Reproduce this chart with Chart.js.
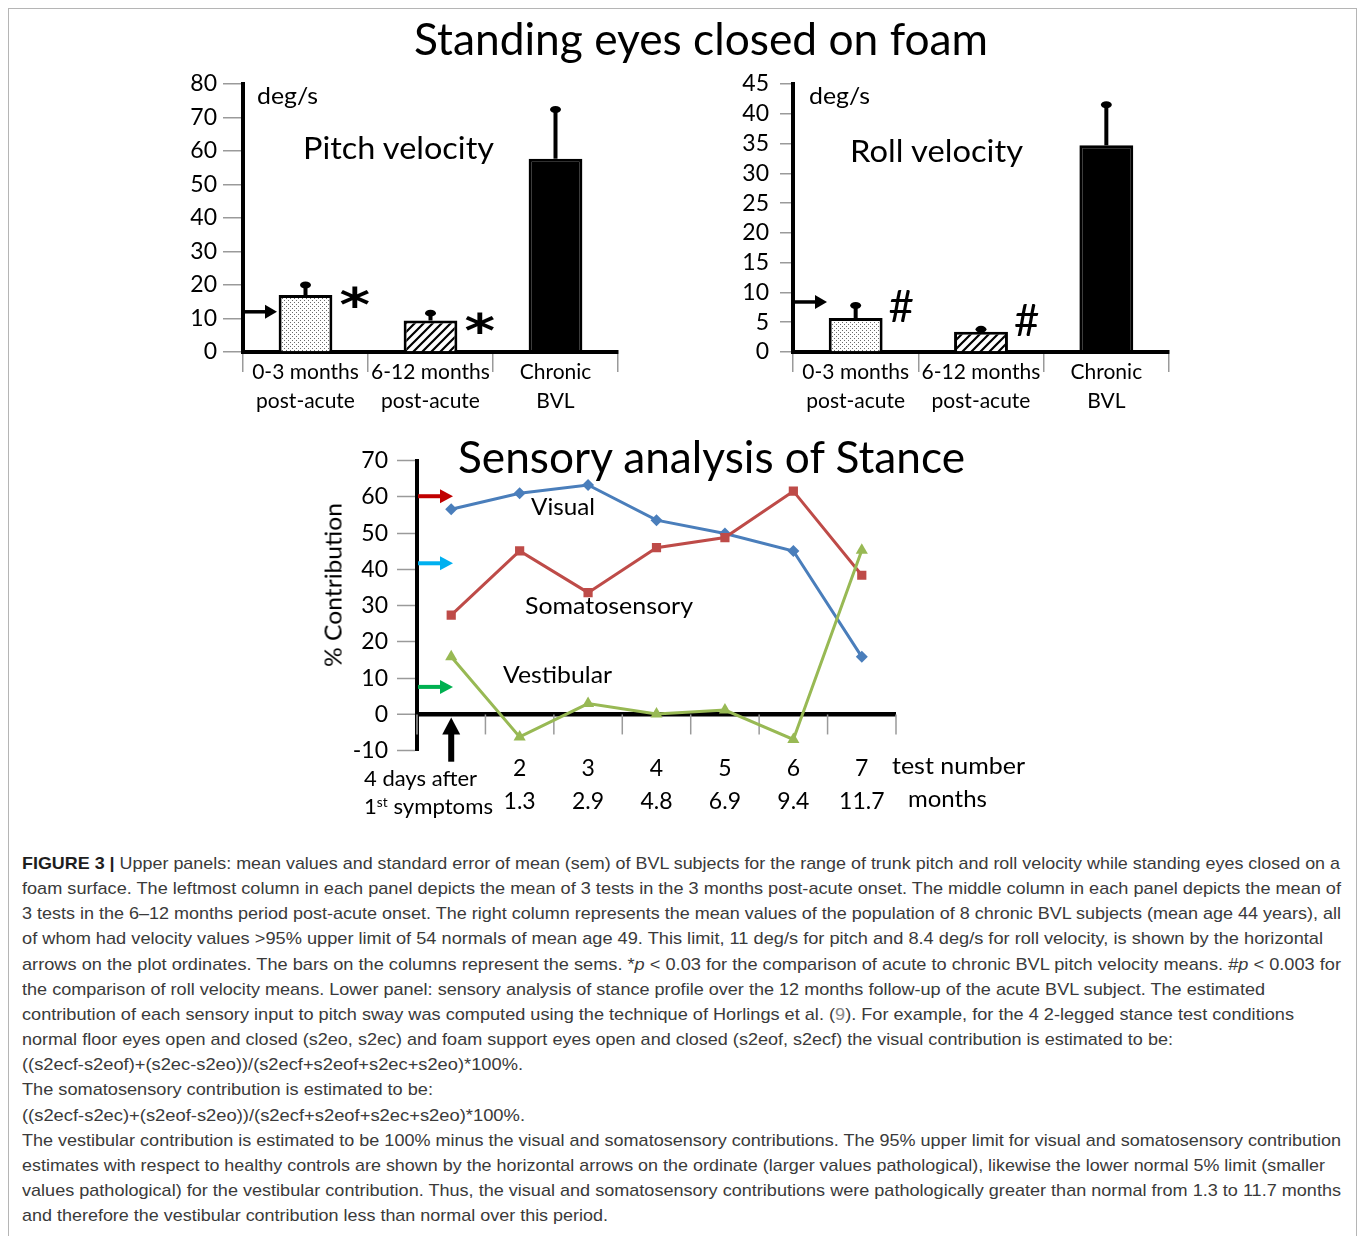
<!DOCTYPE html>
<html>
<head>
<meta charset="utf-8">
<script src="https://cdn.jsdelivr.net/npm/chart.js@4.4.0/dist/chart.umd.min.js"></script>
<style>
  body { margin: 0; background: #fff; width: 1358px; height: 1236px; overflow: hidden; position: relative; font-family: Lato, sans-serif; }
  #frame { position: absolute; left: 8px; top: 8px; width: 1347px; height: 1260px; border: 1px solid #b5b5b5; }
  canvas { position: absolute; left: 0; top: 0; }
  .t { position: absolute; white-space: nowrap; transform-origin: 0 50%; color: #000; }
  .cap { font-family: "Liberation Sans", Arial, sans-serif; color: #3a3a3a; }
  .cap b { color: #1e1e1e; }
  .ref { color: #8a8a8a; }
  .sup { font-size: 0.62em; position: relative; top: -0.55em; }
  #ylab { position: absolute; white-space: nowrap; font-size: 23px; line-height: 28px; }
</style>
</head>
<body>
<div id="frame"></div>
<canvas id="pitch" width="1358" height="440"></canvas>
<canvas id="roll" width="1358" height="440"></canvas>
<canvas id="stance" width="1358" height="840"></canvas>

<div class="t" data-x0="414" data-x1="988" data-y="42" data-fs="44">Standing eyes closed on foam</div>
<div class="t" data-x0="257" data-x1="318" data-y="97" data-fs="24">deg/s</div>
<div class="t" data-x0="809" data-x1="870" data-y="97" data-fs="24">deg/s</div>
<div class="t" data-x0="303" data-x1="494" data-y="150" data-fs="31">Pitch velocity</div>
<div class="t" data-x0="850" data-x1="1023" data-y="153" data-fs="31">Roll velocity</div>
<div class="t" data-x0="458" data-x1="965" data-y="460" data-fs="44">Sensory analysis of Stance</div>
<div class="t" data-x0="531" data-x1="595" data-y="509" data-fs="23">Visual</div>
<div class="t" data-x0="525" data-x1="693" data-y="608" data-fs="23">Somatosensory</div>
<div class="t" data-x0="503" data-x1="612" data-y="677" data-fs="23">Vestibular</div>
<div class="t" data-x0="364" data-x1="477" data-y="780" data-fs="22">4 days after</div>
<div class="t" data-x0="364" data-x1="493" data-y="808" data-fs="22">1<span class="sup">st</span> symptoms</div>
<div class="t" data-x0="892" data-x1="1025" data-y="768" data-fs="23">test number</div>
<div class="t" data-x0="908" data-x1="987" data-y="801" data-fs="23">months</div>
<div id="ylab">% Contribution</div>

<div class="t cap" data-x0="22" data-x1="1340" data-y="865" data-fs="17" data-k="0.64"><b>FIGURE 3 |</b> Upper panels: mean values and standard error of mean (sem) of BVL subjects for the range of trunk pitch and roll velocity while standing eyes closed on a</div>
<div class="t cap" data-x0="22" data-x1="1341" data-y="890" data-fs="17" data-k="0.64">foam surface. The leftmost column in each panel depicts the mean of 3 tests in the 3 months post-acute onset. The middle column in each panel depicts the mean of</div>
<div class="t cap" data-x0="22" data-x1="1341" data-y="915" data-fs="17" data-k="0.64">3 tests in the 6–12 months period post-acute onset. The right column represents the mean values of the population of 8 chronic BVL subjects (mean age 44 years), all</div>
<div class="t cap" data-x0="22" data-x1="1323" data-y="940" data-fs="17" data-k="0.64">of whom had velocity values &gt;95% upper limit of 54 normals of mean age 49. This limit, 11 deg/s for pitch and 8.4 deg/s for roll velocity, is shown by the horizontal</div>
<div class="t cap" data-x0="22" data-x1="1341" data-y="966" data-fs="17" data-k="0.64">arrows on the plot ordinates. The bars on the columns represent the sems. *<i>p</i> &lt; 0.03 for the comparison of acute to chronic BVL pitch velocity means. #<i>p</i> &lt; 0.003 for</div>
<div class="t cap" data-x0="22" data-x1="1265" data-y="991" data-fs="17" data-k="0.64">the comparison of roll velocity means. Lower panel: sensory analysis of stance profile over the 12 months follow-up of the acute BVL subject. The estimated</div>
<div class="t cap" data-x0="22" data-x1="1294" data-y="1016" data-fs="17" data-k="0.64">contribution of each sensory input to pitch sway was computed using the technique of Horlings et al. (<span class="ref">9</span>). For example, for the 4 2-legged stance test conditions</div>
<div class="t cap" data-x0="22" data-x1="1173" data-y="1041" data-fs="17" data-k="0.64">normal floor eyes open and closed (s2eo, s2ec) and foam support eyes open and closed (s2eof, s2ecf) the visual contribution is estimated to be:</div>
<div class="t cap" data-x0="22" data-x1="523" data-y="1066" data-fs="17" data-k="0.64">((s2ecf-s2eof)+(s2ec-s2eo))/(s2ecf+s2eof+s2ec+s2eo)*100%.</div>
<div class="t cap" data-x0="22" data-x1="433" data-y="1091" data-fs="17" data-k="0.64">The somatosensory contribution is estimated to be:</div>
<div class="t cap" data-x0="22" data-x1="525" data-y="1117" data-fs="17" data-k="0.64">((s2ecf-s2ec)+(s2eof-s2eo))/(s2ecf+s2eof+s2ec+s2eo)*100%.</div>
<div class="t cap" data-x0="22" data-x1="1341" data-y="1142" data-fs="17" data-k="0.64">The vestibular contribution is estimated to be 100% minus the visual and somatosensory contributions. The 95% upper limit for visual and somatosensory contribution</div>
<div class="t cap" data-x0="22" data-x1="1325" data-y="1167" data-fs="17" data-k="0.64">estimates with respect to healthy controls are shown by the horizontal arrows on the ordinate (larger values pathological), likewise the lower normal 5% limit (smaller</div>
<div class="t cap" data-x0="22" data-x1="1341" data-y="1192" data-fs="17" data-k="0.64">values pathological) for the vestibular contribution. Thus, the visual and somatosensory contributions were pathologically greater than normal from 1.3 to 11.7 months</div>
<div class="t cap" data-x0="22" data-x1="608" data-y="1217" data-fs="17" data-k="0.64">and therefore the vestibular contribution less than normal over this period.</div>

<script>
// upper panels
const groupLabels = [["0-3 months", "post-acute"], ["6-12 months", "post-acute"], ["Chronic", "BVL"]];
const pitchMean = [17.0, 9.4, 57.7];
const pitchSem = [3.0, 2.2, 14.7];
const pitchLimit = 12;
const pitchMarks = ["*", "*", ""];
const rollMean = [5.7, 3.4, 34.7];
const rollSem = [2.1, 0.4, 6.8];
const rollLimit = 8.4;
const rollMarks = ["#", "#", ""];

// lower panel
const testLabels = [["", ""], ["2", "1.3"], ["3", "2.9"], ["4", "4.8"], ["5", "6.9"], ["6", "9.4"], ["7", "11.7"]];
const visual = [56.6, 61.0, 63.3, 53.6, 49.9, 45.1, 15.9];
const somato = [27.4, 45.1, 33.6, 46.0, 48.8, 61.6, 38.4];
const vestib = [15.9, -6.2, 3.0, 0.1, 1.2, -6.9, 45.3];
const normLimits = [60.2, 41.7, 7.6];
const normColors = ["#c00000", "#00b0f0", "#00b050"];

Chart.defaults.font.family = "Lato";
Chart.defaults.color = "#000";
Chart.defaults.animation = false;

function stipple() {
  const c = document.createElement("canvas");
  c.width = c.height = 4;
  const g = c.getContext("2d");
  g.fillStyle = "#fff"; g.fillRect(0, 0, 4, 4);
  g.fillStyle = "#6a6a6a";
  g.fillRect(0, 0, 1, 1); g.fillRect(2, 2, 1, 1);
  return g.createPattern(c, "repeat");
}
function hatch() {
  const s = 9, c = document.createElement("canvas");
  c.width = c.height = s;
  const g = c.getContext("2d");
  g.fillStyle = "#fff"; g.fillRect(0, 0, s, s);
  g.strokeStyle = "#000"; g.lineWidth = 2.2;
  g.beginPath();
  g.moveTo(-1, s + 1); g.lineTo(s + 1, -1);
  g.moveTo(-1, 1); g.lineTo(1, -1);
  g.moveTo(s - 1, s + 1); g.lineTo(s + 1, s - 1);
  g.stroke();
  return g.createPattern(c, "repeat");
}

function arrow(ctx, x0, y0, x1, y1, w, headLen, headHalf, color) {
  const L = Math.hypot(x1 - x0, y1 - y0);
  ctx.save();
  ctx.translate(x0, y0);
  ctx.rotate(Math.atan2(y1 - y0, x1 - x0));
  ctx.fillStyle = color;
  ctx.fillRect(0, -w / 2, L - headLen + 1, w);
  ctx.beginPath();
  ctx.moveTo(L, 0); ctx.lineTo(L - headLen, -headHalf); ctx.lineTo(L - headLen, headHalf);
  ctx.closePath(); ctx.fill();
  ctx.restore();
}

// draws s so that its ink box is w x h, centred on (cx, cy)
function glyph(ctx, s, cx, cy, w, h, weight, family) {
  ctx.save();
  ctx.font = weight + " 100px " + family;
  let m = ctx.measureText(s);
  const size = 100 * h / (m.actualBoundingBoxAscent + m.actualBoundingBoxDescent);
  ctx.font = weight + " " + size + "px " + family;
  m = ctx.measureText(s);
  const gw = m.actualBoundingBoxRight + m.actualBoundingBoxLeft;
  ctx.translate(cx, cy);
  ctx.scale(w / gw, 1);
  ctx.textAlign = "left"; ctx.textBaseline = "alphabetic";
  ctx.fillStyle = "#000";
  ctx.fillText(s, -(m.actualBoundingBoxRight - m.actualBoundingBoxLeft) / 2, (m.actualBoundingBoxAscent - m.actualBoundingBoxDescent) / 2);
  ctx.restore();
}

const barExtras = {
  id: "barExtras",
  afterDatasetsDraw(chart, args, o) {
    const ctx = chart.ctx, y = chart.scales.y, a = chart.chartArea;
    const vals = chart.data.datasets[0].data;
    ctx.save();
    ctx.strokeStyle = "#000"; ctx.fillStyle = "#000";
    chart.getDatasetMeta(0).data.forEach((bar, i) => {
      const top = y.getPixelForValue(vals[i] + o.sem[i]);
      ctx.lineWidth = 4;
      ctx.beginPath(); ctx.moveTo(bar.x, bar.y); ctx.lineTo(bar.x, top); ctx.stroke();
      ctx.beginPath(); ctx.ellipse(bar.x, top, 5.5, 3.5, 0, 0, Math.PI * 2); ctx.fill();
      if (o.marks[i]) glyph(ctx, o.marks[i], bar.x + bar.width / 2 + o.markDx, bar.y + o.markDy, o.markW, o.markH, o.markWeight, o.markFamily);
    });
    const ly = y.getPixelForValue(o.limit);
    arrow(ctx, a.left + 1, ly, a.left + 34, ly, 3.5, 12, 7, "#000");
    ctx.restore();
  }
};

function barChart(id, means, sem, limit, marks, max, step, area, tickLen, tickPad, markOpts) {
  const W = 1358, H = 440, yw = 70, xh = 70;
  new Chart(document.getElementById(id), {
    type: "bar",
    data: {
      labels: groupLabels,
      datasets: [{
        data: means,
        backgroundColor: [stipple(), hatch(), "#000"],
        borderColor: "#000",
        borderWidth: 3,
        barPercentage: 0.43,
        categoryPercentage: 1
      }]
    },
    options: {
      responsive: false,
      devicePixelRatio: 1,
      events: [],
      layout: { padding: { left: area.left - yw, right: W - area.right, top: area.top, bottom: H - area.bottom - xh } },
      plugins: {
        legend: { display: false },
        tooltip: { enabled: false },
        barExtras: Object.assign({ sem: sem, limit: limit, marks: marks }, markOpts)
      },
      scales: {
        x: {
          afterFit: s => { s.height = xh; },
          grid: { offset: true, drawOnChartArea: false, tickLength: 20, color: "#9a9a9a", lineWidth: 1.5 },
          border: { color: "#000", width: 4 },
          ticks: { font: { size: 21, lineHeight: 1.38 }, padding: -14.5, maxRotation: 0, autoSkip: false }
        },
        y: {
          min: 0, max: max,
          afterFit: s => { s.width = yw; },
          grid: { drawOnChartArea: false, tickLength: tickLen, color: "#9a9a9a", lineWidth: 1.5 },
          border: { color: "#000", width: 4 },
          ticks: { stepSize: step, autoSkip: false, font: { size: 23 }, padding: tickPad }
        }
      }
    },
    plugins: [barExtras]
  });
}

barChart("pitch", pitchMean, pitchSem, pitchLimit, pitchMarks, 80, 10,
  { left: 243, right: 618, top: 84, bottom: 352 }, 20, 6,
  { markDx: 22, markDy: 2, markW: 30, markH: 22, markWeight: "bold", markFamily: "'DejaVu Sans'" });
barChart("roll", rollMean, rollSem, rollLimit, rollMarks, 45, 5,
  { left: 793, right: 1169, top: 84, bottom: 352 }, 13, 11,
  { markDx: 19, markDy: -12, markW: 24, markH: 32, markWeight: "normal", markFamily: "Lato" });

const stanceExtras = {
  id: "stanceExtras",
  beforeDatasetsDraw(chart) {
    const { ctx, scales: { x, y } } = chart;
    const y0 = y.getPixelForValue(0);
    ctx.save();
    ctx.strokeStyle = "#9a9a9a"; ctx.lineWidth = 1.5;
    for (let i = 0; i <= chart.data.labels.length; i++) {
      const px = x.getPixelForValue(i - 0.5);
      ctx.beginPath(); ctx.moveTo(px, y0); ctx.lineTo(px, y0 + 20); ctx.stroke();
    }
    ctx.restore();
  },
  afterDraw(chart, args, o) {
    const { ctx, chartArea: a, scales: { x, y } } = chart;
    o.limits.forEach((v, i) => {
      const py = y.getPixelForValue(v);
      arrow(ctx, a.left + 1, py, a.left + 36, py, 4, 13, 7, o.colors[i]);
    });
    const px = x.getPixelForValue(0);
    arrow(ctx, px, y.getPixelForValue(-10) + 11, px, y.getPixelForValue(0) + 3, 6, 17, 9, "#000");
  }
};

(function () {
  const W = 1358, H = 840, yw = 70, xh = 72;
  const area = { left: 417, right: 896, top: 460.7, bottom: 750.7 };
  const line = (data, color, style, r) => ({
    data: data, borderColor: color, backgroundColor: color, borderWidth: 3,
    pointStyle: style, pointRadius: r, pointBorderWidth: 0, tension: 0
  });
  new Chart(document.getElementById("stance"), {
    type: "line",
    data: {
      labels: testLabels,
      datasets: [
        line(vestib, "#98b954", "triangle", 7),
        line(somato, "#be4b48", "rect", 6.5),
        line(visual, "#4a7ebb", "rectRot", 6)
      ]
    },
    options: {
      responsive: false,
      devicePixelRatio: 1,
      events: [],
      layout: { padding: { left: area.left - yw, right: W - area.right, top: area.top, bottom: H - area.bottom - xh } },
      plugins: {
        legend: { display: false },
        tooltip: { enabled: false },
        stanceExtras: { limits: normLimits, colors: normColors }
      },
      scales: {
        x: {
          offset: true,
          afterFit: s => { s.height = xh; },
          grid: { display: false, drawTicks: false },
          border: { display: false },
          ticks: { font: { size: 23, lineHeight: 1.435 }, padding: 1, maxRotation: 0, autoSkip: false }
        },
        y: {
          min: -10, max: 70,
          afterFit: s => { s.width = yw; },
          grid: {
            drawOnChartArea: true,
            color: c => (c.tick && c.tick.value === 0 ? "#000" : "rgba(0,0,0,0)"),
            lineWidth: c => (c.tick && c.tick.value === 0 ? 4.5 : 1),
            tickColor: "#9a9a9a", tickWidth: 1.5, tickLength: 20
          },
          border: { color: "#000", width: 4 },
          ticks: { stepSize: 10, autoSkip: false, font: { size: 23 }, padding: 9 }
        }
      }
    },
    plugins: [stanceExtras]
  });
})();

function place() {
  document.querySelectorAll("[data-x0]").forEach(el => {
    const fs = +el.dataset.fs, x0 = +el.dataset.x0, x1 = +el.dataset.x1, yc = +el.dataset.y;
    const k = el.dataset.k ? +el.dataset.k : 0.68;
    el.style.transform = "none";
    el.style.fontSize = fs + "px";
    el.style.lineHeight = (fs * 1.2) + "px";
    el.style.left = x0 + "px";
    el.style.top = (yc - fs * k) + "px";
    const w = el.getBoundingClientRect().width;
    el.style.transform = "scaleX(" + ((x1 - x0) / w) + ")";
  });
  const yl = document.getElementById("ylab");
  yl.style.transform = "none";
  const w = yl.getBoundingClientRect().width, h = yl.getBoundingClientRect().height;
  yl.style.left = (333 - w / 2) + "px";
  yl.style.top = (585 - h / 2) + "px";
  yl.style.transform = "rotate(-90deg) scaleX(" + (164 / w) + ")";
}
place();
if (document.fonts) document.fonts.ready.then(place);
</script>
</body>
</html>
